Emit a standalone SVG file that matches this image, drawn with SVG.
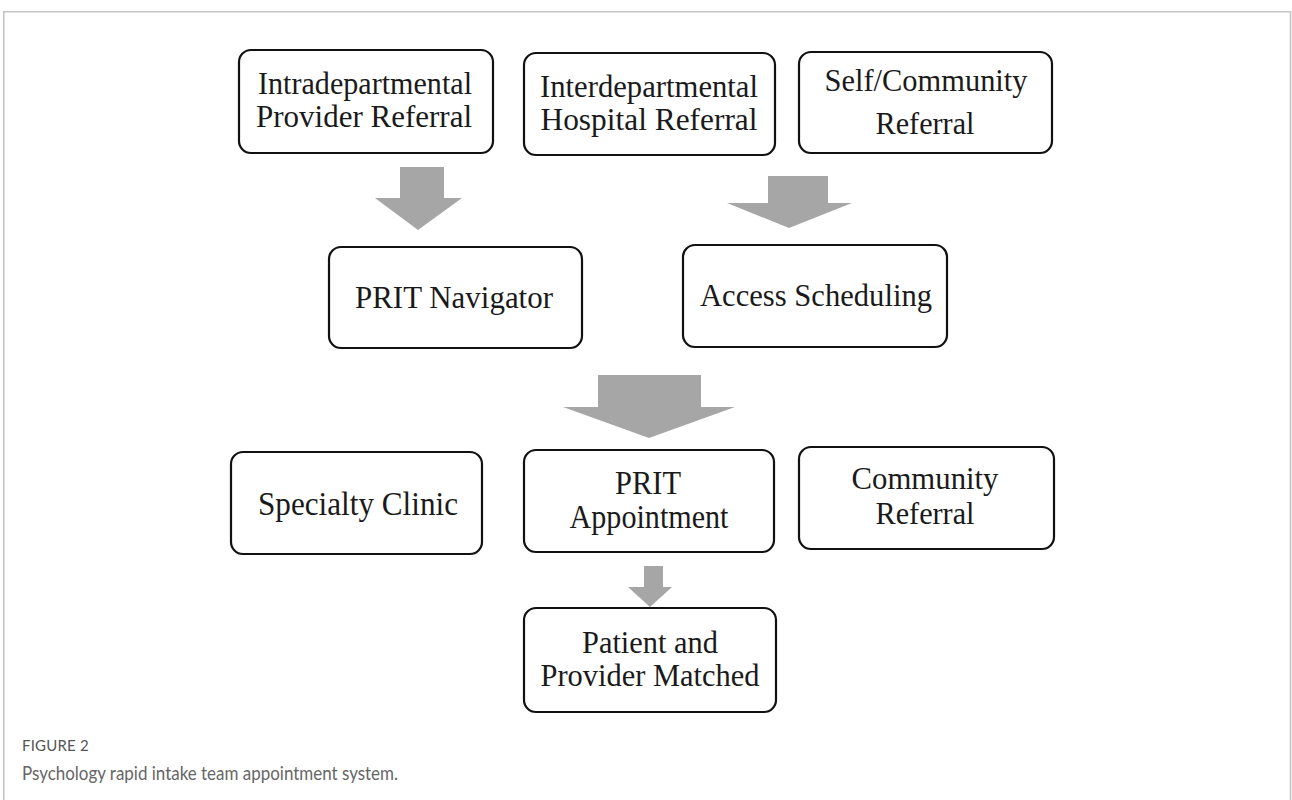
<svg xmlns="http://www.w3.org/2000/svg" width="1292" height="800" viewBox="0 0 1292 800">
  <style>
    .box { fill: #ffffff; stroke: #111111; stroke-width: 2.2; }
    .lbl { font-family: "Liberation Serif", "Times New Roman", serif; font-size: 32px; fill: #1a1a1a; text-anchor: middle; }
    .tall { font-size: 34px; }
    .arrow { fill: #a6a6a6; }
    .frame { fill: none; stroke: #c4c4c4; stroke-width: 1.6; }
    .fig { font-family: "Lato", "Open Sans", sans-serif; font-size: 15px; fill: #555555; letter-spacing: 0.2px; }
    .cap { font-family: "Lato", "Open Sans", sans-serif; font-size: 19px; fill: #666666; }
  </style>

  <rect x="0" y="0" width="1292" height="800" fill="#ffffff"/>
  <path class="frame" d="M3.8,810 V11.8 H1290.5 V810"/>

  <!-- connectors: block arrows -->
  <g id="connectors">
    <polygon class="arrow" points="400,167 444,167 444,198 462,198 418,230 375,198 400,198"/>
    <polygon class="arrow" points="768,176 828,176 828,203 852,203 789,228 727,203 768,203"/>
    <polygon class="arrow" points="598,375 701,375 701,407 735,407 649,438 563,407 598,407"/>
    <polygon class="arrow" points="644,566 663,566 663,587 672,587 650,607 628,587 644,587"/>
  </g>

  <g id="intradepartmental">
    <rect class="box" x="239" y="50" width="254" height="103" rx="12"/>
    <text class="lbl" x="365" y="94" textLength="214" lengthAdjust="spacingAndGlyphs">Intradepartmental</text>
    <text class="lbl" x="364" y="127" textLength="216" lengthAdjust="spacingAndGlyphs">Provider Referral</text>
  </g>

  <g id="interdepartmental">
    <rect class="box" x="524" y="53" width="251" height="102" rx="12"/>
    <text class="lbl" x="649" y="97" textLength="218" lengthAdjust="spacingAndGlyphs">Interdepartmental</text>
    <text class="lbl" x="649" y="130" textLength="217" lengthAdjust="spacingAndGlyphs">Hospital Referral</text>
  </g>

  <g id="self-community">
    <rect class="box" x="799" y="52" width="253" height="101" rx="12"/>
    <text class="lbl" x="926" y="91" textLength="203" lengthAdjust="spacingAndGlyphs">Self/Community</text>
    <text class="lbl" x="925" y="134" textLength="99" lengthAdjust="spacingAndGlyphs">Referral</text>
  </g>

  <g id="prit-navigator">
    <rect class="box" x="329" y="247" width="253" height="101" rx="12"/>
    <text class="lbl" x="454" y="308" textLength="198" lengthAdjust="spacingAndGlyphs">PRIT Navigator</text>
  </g>

  <g id="access-scheduling">
    <rect class="box" x="683" y="245" width="264" height="102" rx="12"/>
    <text class="lbl" x="816" y="306" textLength="232" lengthAdjust="spacingAndGlyphs">Access Scheduling</text>
  </g>

  <g id="specialty-clinic">
    <rect class="box" x="231" y="452" width="251" height="102" rx="12"/>
    <text class="lbl tall" x="358" y="515" textLength="200" lengthAdjust="spacingAndGlyphs">Specialty Clinic</text>
  </g>

  <g id="prit-appointment">
    <rect class="box" x="524" y="450" width="250" height="102" rx="12"/>
    <text class="lbl tall" x="648" y="494" textLength="66" lengthAdjust="spacingAndGlyphs">PRIT</text>
    <text class="lbl tall" x="649" y="528" textLength="159" lengthAdjust="spacingAndGlyphs">Appointment</text>
  </g>

  <g id="community-referral">
    <rect class="box" x="799" y="447" width="255" height="102" rx="12"/>
    <text class="lbl" x="925" y="489" textLength="147" lengthAdjust="spacingAndGlyphs">Community</text>
    <text class="lbl" x="925" y="524" textLength="99" lengthAdjust="spacingAndGlyphs">Referral</text>
  </g>

  <g id="patient-provider-matched">
    <rect class="box" x="524" y="608" width="252" height="104" rx="12"/>
    <text class="lbl" x="650" y="653" textLength="136" lengthAdjust="spacingAndGlyphs">Patient and</text>
    <text class="lbl" x="650" y="686" textLength="219" lengthAdjust="spacingAndGlyphs">Provider Matched</text>
  </g>

  <g id="caption">
    <text class="fig" x="22" y="751">FIGURE 2</text>
    <text class="cap" x="22" y="780" textLength="376" lengthAdjust="spacingAndGlyphs">Psychology rapid intake team appointment system.</text>
  </g>
</svg>
